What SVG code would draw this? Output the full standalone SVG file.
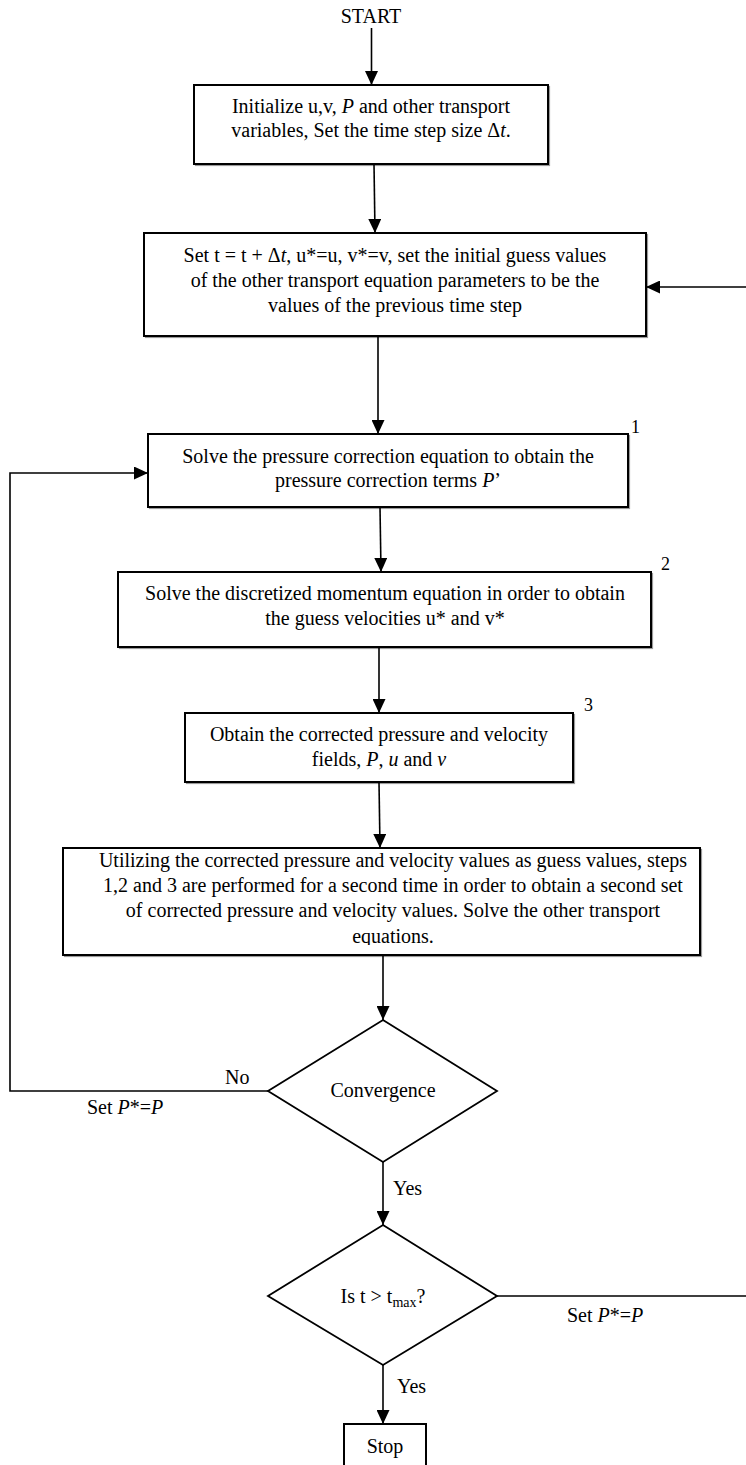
<svg xmlns="http://www.w3.org/2000/svg" width="746" height="1465" viewBox="0 0 746 1465">
<style>
text{font-family:"Liberation Serif","Times New Roman",serif;font-size:20px;fill:#000}
.c{text-anchor:middle}
.box{fill:#fff;stroke:#000;stroke-width:2}
.sh{fill:none;stroke:#9a9a9a;stroke-width:1.2}
.dia{fill:#fff;stroke:#000;stroke-width:1.8}
.ln{fill:none;stroke:#000;stroke-width:1.6}
.num{font-size:18px}
</style>
<defs>
<marker id="ah" viewBox="0 0 14 13" refX="14" refY="6.5" markerWidth="14" markerHeight="13" markerUnits="userSpaceOnUse" orient="auto">
<path d="M0,0 L14,6.5 L0,13 Z" fill="#000"/>
</marker>
<clipPath id="clip6"><rect x="63" y="848" width="637" height="97"/></clipPath>
</defs>
<rect width="746" height="1465" fill="#fff"/>

<g id="start"><text class="c" x="371" y="23">START</text></g>

<g id="box1">
<rect class="sh" x="195.5" y="86.5" width="354" height="79"/>
<rect class="box" x="194" y="85" width="354" height="79"/>
<text class="c" x="371" y="113">Initialize u,v, <tspan font-style="italic">P</tspan> and other transport</text>
<text class="c" x="371" y="137">variables, Set the time step size Δ<tspan font-style="italic">t</tspan>.</text>
</g>

<g id="box2">
<rect class="sh" x="145.5" y="234.5" width="502" height="103"/>
<rect class="box" x="144" y="233" width="502" height="103"/>
<text class="c" x="395" y="262">Set t = t + Δ<tspan font-style="italic">t</tspan>, u*=u, v*=v, set the initial guess values</text>
<text class="c" x="395" y="287">of the other transport equation parameters to be the</text>
<text class="c" x="395" y="312">values of the previous time step</text>
</g>

<g id="box3">
<rect class="sh" x="149.5" y="435.5" width="480" height="73"/>
<rect class="box" x="148" y="434" width="480" height="73"/>
<text class="c" x="388" y="463">Solve the pressure correction equation to obtain the</text>
<text class="c" x="388" y="487">pressure correction terms <tspan font-style="italic">P</tspan>’</text>
<text class="num" x="631" y="433">1</text>
</g>

<g id="box4">
<rect class="sh" x="119.5" y="573.5" width="533" height="75"/>
<rect class="box" x="118" y="572" width="533" height="75"/>
<text class="c" x="385" y="600">Solve the discretized momentum equation in order to obtain</text>
<text class="c" x="385" y="625">the guess velocities u* and v*</text>
<text class="num" x="661" y="570">2</text>
</g>

<g id="box5">
<rect class="sh" x="186.5" y="714.5" width="388" height="69"/>
<rect class="box" x="185" y="713" width="388" height="69"/>
<text class="c" x="379" y="741">Obtain the corrected pressure and velocity</text>
<text class="c" x="379" y="766">fields, <tspan font-style="italic">P</tspan>, <tspan font-style="italic">u</tspan> and <tspan font-style="italic">v</tspan></text>
<text class="num" x="584" y="711">3</text>
</g>

<g id="box6">
<rect class="sh" x="64.5" y="849.5" width="637" height="107"/>
<rect class="box" x="63" y="848" width="637" height="107"/>
<g clip-path="url(#clip6)">
<text class="c" x="393" y="867">Utilizing the corrected pressure and velocity values as guess values, steps</text>
<text class="c" x="393" y="892">1,2 and 3 are performed for a second time in order to obtain a second set</text>
<text class="c" x="393" y="917">of corrected pressure and velocity values. Solve the other transport</text>
<text class="c" x="393" y="943">equations.</text>
</g>
</g>

<g id="convergence">
<polygon class="dia" points="383,1020 497,1091 383,1162 268,1091"/>
<text class="c" x="383" y="1097">Convergence</text>
</g>

<g id="tmax">
<polygon class="dia" points="383,1225 497,1296 383,1365 268,1296"/>
<text class="c" x="383" y="1303">Is t &gt; t<tspan font-size="14" dy="4">max</tspan><tspan dy="-4">?</tspan></text>
</g>

<g id="stop">
<rect class="box" x="344" y="1424" width="82" height="50"/>
<text class="c" x="385" y="1453">Stop</text>
</g>

<g id="connectors">
<path class="ln" marker-end="url(#ah)" d="M371.5,28 L371.5,85"/>
<path class="ln" marker-end="url(#ah)" d="M374,164 L375,233"/>
<path class="ln" marker-end="url(#ah)" d="M378,336 L378,434"/>
<path class="ln" marker-end="url(#ah)" d="M380,507 L381,572"/>
<path class="ln" marker-end="url(#ah)" d="M379,647 L379,713"/>
<path class="ln" marker-end="url(#ah)" d="M379,782 L380,848"/>
<path class="ln" marker-end="url(#ah)" d="M383,955 L383,1020"/>
<path class="ln" marker-end="url(#ah)" d="M383,1162 L383,1225"/>
<path class="ln" marker-end="url(#ah)" d="M383,1365 L383,1424"/>
<path class="ln" marker-end="url(#ah)" d="M268,1091 L10,1091 L10,473 L148,473"/>
<path class="ln" marker-end="url(#ah)" d="M497,1296 L748,1296 L748,287 L646,287"/>
<text x="225" y="1084">No</text>
<text x="87" y="1114">Set <tspan font-style="italic">P</tspan>*=<tspan font-style="italic">P</tspan></text>
<text x="393" y="1195">Yes</text>
<text x="567" y="1322">Set <tspan font-style="italic">P</tspan>*=<tspan font-style="italic">P</tspan></text>
<text x="397" y="1393">Yes</text>
</g>
</svg>
